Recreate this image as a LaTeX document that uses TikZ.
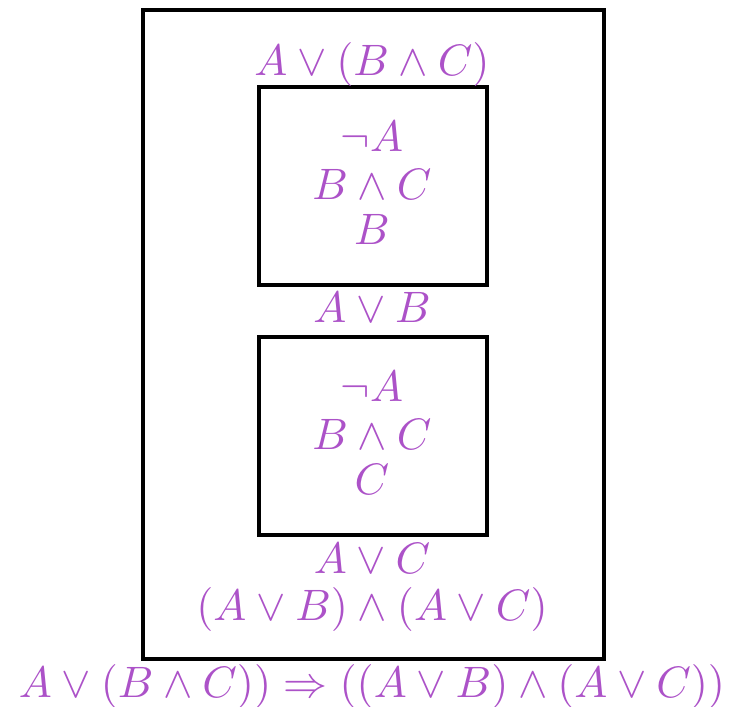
\documentclass[tikz,border=0pt]{standalone}
\usepackage{graphicx}
\usepackage{xcolor}
\definecolor{lbl}{RGB}{172,82,200}
\newcommand{\lblmath}[1]{\scalebox{4.4}{$#1$}}
\begin{document}
\begin{tikzpicture}[x=1pt,y=1pt,
  box/.style={draw=black,line width=3.5pt},
  lab/.style={text=lbl,inner sep=0pt,anchor=base}]
\useasboundingbox (0,0) rectangle (730,706);
\node[box,minimum width=461pt,minimum height=649pt,inner sep=0pt] (outer) at (373.5,371.5) {};
\node[box,minimum width=228pt,minimum height=198pt,inner sep=0pt] (top) at (373,520) {};
\node[box,minimum width=228pt,minimum height=198pt,inner sep=0pt] (bot) at (373,270) {};
\node[lab] (t0) at (372,630) {\lblmath{A\lor(B\land C)}};
\node[lab] (t1) at (372,554) {\lblmath{\lnot A}};
\node[lab] (t2) at (372,506) {\lblmath{B\land C}};
\node[lab] (t3) at (372,461) {\lblmath{B}};
\node[lab] (t4) at (372,383) {\lblmath{A\lor B}};
\node[lab] (t5) at (372,304) {\lblmath{\lnot A}};
\node[lab] (t6) at (372,256) {\lblmath{B\land C}};
\node[lab] (t7) at (372,211) {\lblmath{C}};
\node[lab] (t8) at (372,132) {\lblmath{A\lor C}};
\node[lab] (t9) at (372,85) {\lblmath{(A\lor B)\land(A\lor C)}};
\node[lab] (t10) at (372,8) {\lblmath{A\lor(B\land C))\Rightarrow((A\lor B)\land(A\lor C))}};
\end{tikzpicture}
\end{document}
